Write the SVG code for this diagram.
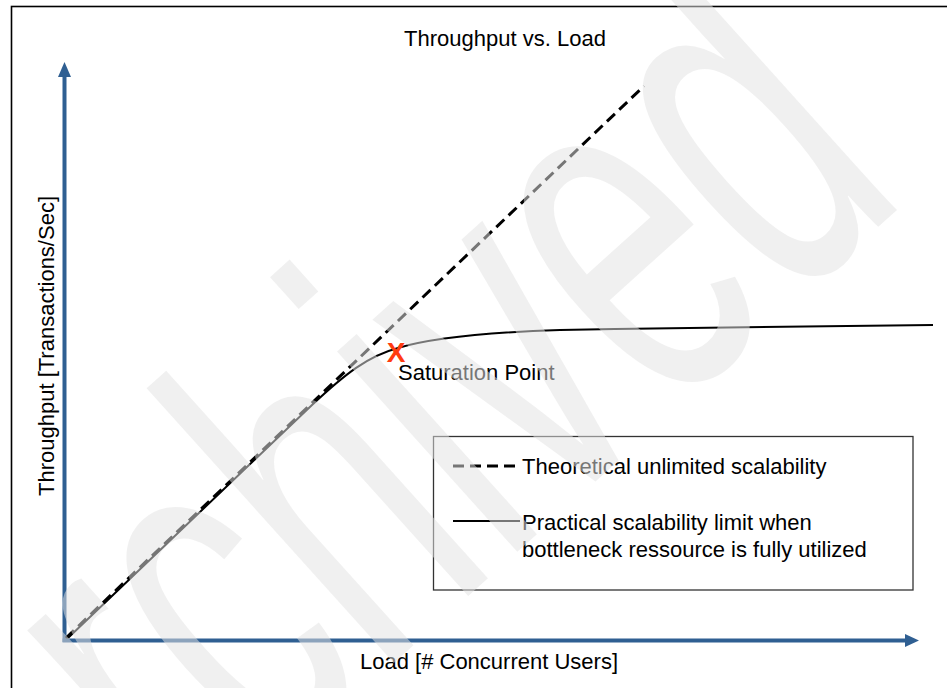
<svg xmlns="http://www.w3.org/2000/svg" width="947" height="688" viewBox="0 0 947 688">
<style>
.t{font-family:"Liberation Sans",Arial,sans-serif;font-size:22px;fill:#000}
.ax{stroke:#2f5f92;stroke-width:4;fill:none}
.axh{fill:#2f5f92}
.dash{stroke:#000;stroke-width:3;stroke-dasharray:11 6;fill:none}
.solid{stroke:#000;stroke-width:2;fill:none}
</style>
<rect x="0" y="0" width="947" height="688" fill="#fff"/>
<g id="frame"><rect x="11.5" y="6.5" width="1000" height="1000" fill="none" stroke="#000" stroke-width="1.6"/></g>
<g id="title"><text class="t" x="505" y="46" text-anchor="middle">Throughput vs. Load</text></g>
<g id="axes">
<path class="ax" d="M64.5,642 V74"/>
<polygon class="axh" points="64.5,62 58,77 71,77"/>
<path class="ax" d="M62.5,640.5 H907"/>
<polygon class="axh" points="919,640.5 905,634 905,647"/>
</g>
<g id="axis-labels">
<text class="t" transform="translate(54,346) rotate(-90)" text-anchor="middle">Throughput [Transactions/Sec]</text>
<text class="t" x="489" y="669" text-anchor="middle">Load [# Concurrent Users]</text>
</g>
<g id="connectors">
<path id="theoretical" class="dash" d="M66,638 L644,86"/>
<path id="practical" class="solid" d="M68,638 L312,405 C345,374 368,356 398,348 C425,340 470,333 560,330 C700,327 850,325 933,325"/>
</g>
<g id="saturation">
<text x="396" y="362" text-anchor="middle" font-family="Liberation Sans,Arial,sans-serif" font-weight="bold" font-size="28" fill="#ff3b10">X</text>
<text class="t" x="398" y="380">Saturation Point</text>
</g>
<g id="legend">
<rect x="433.5" y="436.5" width="479.5" height="153.5" fill="none" stroke="#333" stroke-width="1.3"/>
<path class="dash" d="M453,466 H515"/>
<text class="t" x="522" y="474">Theoretical unlimited scalability</text>
<path class="solid" d="M453,521 H520"/>
<text class="t" x="522" y="530">Practical scalability limit when</text>
<text class="t" x="522" y="557">bottleneck ressource is fully utilized</text>
</g>
<g id="watermark">
<text transform="translate(44,978) rotate(-42) scale(1,1.7)" font-family="Liberation Sans,Arial,sans-serif" font-size="300" fill="#e3e3e3" fill-opacity="0.52">Archived</text>
</g>
</svg>
